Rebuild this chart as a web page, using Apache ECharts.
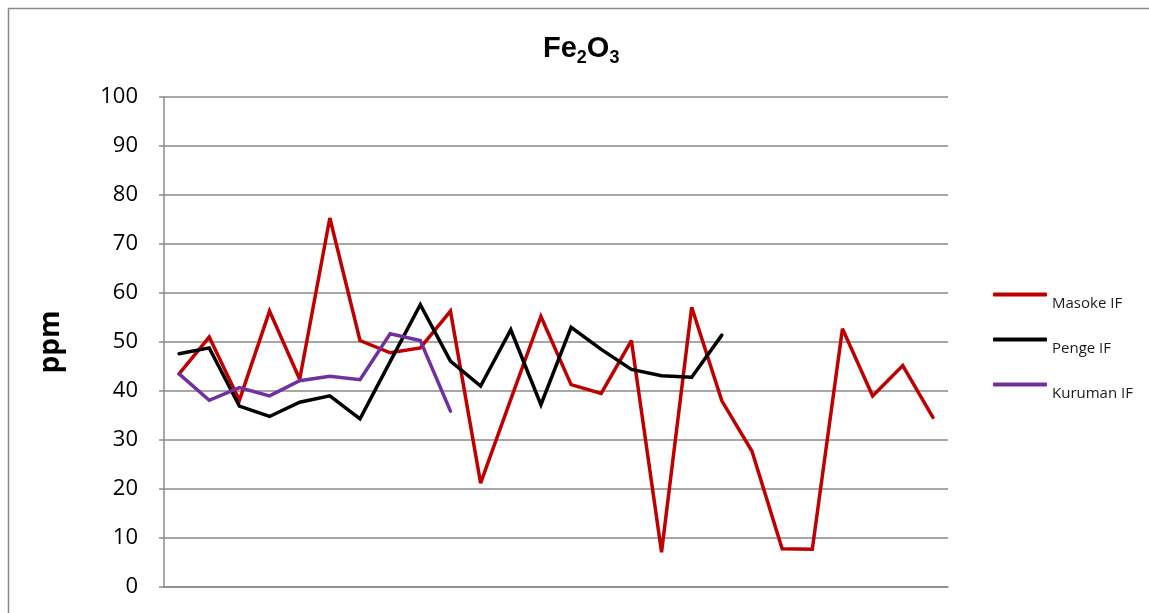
<!DOCTYPE html>
<html>
<head>
<meta charset="utf-8">
<title>Fe2O3</title>
<script src="https://cdn.jsdelivr.net/npm/echarts@6/dist/echarts.min.js"></script>
<style>
  html, body { margin: 0; padding: 0; background: #ffffff; }
  #chart { width: 1149px; height: 613px; }
</style>
</head>
<body>
<div id="chart"></div>
<script>
// Sample positions along the section (unlabelled on the chart)
const categories = ['1', '2', '3', '4', '5', '6', '7', '8', '9', '10', '11', '12', '13',
  '14', '15', '16', '17', '18', '19', '20', '21', '22', '23', '24', '25', '26'];

// Fe2O3 concentrations (ppm)
const masokeIF = [43.5, 51.0, 38.1, 56.3, 42.4, 75.3, 50.3, 47.8, 48.8, 56.3, 21.2, 38.3, 55.2,
  41.3, 39.5, 50.3, 7.1, 57.1, 38.0, 27.7, 7.8, 7.7, 52.7, 39.0, 45.2, 34.6];
const pengeIF = [47.6, 48.8, 36.9, 34.8, 37.7, 39.0, 34.3, 46.0, 57.6, 46.1, 41.0, 52.5, 37.2,
  53.0, 48.5, 44.4, 43.1, 42.8, 51.4];
const kurumanIF = [43.5, 38.1, 40.7, 39.0, 42.1, 43.0, 42.3, 51.7, 50.3, 35.9];

const seriesNames = ['Masoke IF', 'Penge IF', 'Kuruman IF'];
const seriesColors = ['#C00000', '#000000', '#7030A0'];
const seriesData = [masokeIF, pengeIF, kurumanIF];

const yTicks = { min: 0, max: 100, interval: 10 };

const gridGray = '#8a8a8a';
const bodyFont = '"Open Sans", "Noto Sans", sans-serif';

const chart = echarts.init(document.getElementById('chart'), null, { renderer: 'canvas' });

chart.setOption({
  backgroundColor: '#ffffff',
  animation: false,
  graphic: [{
    type: 'rect',
    shape: { x: 8.5, y: 8.5, width: 1200, height: 700 },
    style: { fill: 'none', stroke: gridGray, lineWidth: 1.5 },
    silent: true
  }],
  title: {
    text: '{a|Fe}{s|2}{a|O}{s|3}',
    left: 538,
    top: 30,
    textStyle: {
      rich: {
        a: {
          fontFamily: '"Liberation Sans", Arial, sans-serif',
          fontWeight: 'bold',
          fontSize: 29,
          lineHeight: 32,
          color: '#000',
          verticalAlign: 'bottom',
          padding: [0, 0, 4, 0]
        },
        s: {
          fontFamily: '"Liberation Sans", Arial, sans-serif',
          fontWeight: 'bold',
          fontSize: 18,
          lineHeight: 20,
          color: '#000',
          verticalAlign: 'bottom'
        }
      }
    }
  },
  legend: {
    orient: 'vertical',
    left: 988,
    top: 273,
    itemWidth: 54,
    itemHeight: 4,
    itemGap: 12,
    icon: 'roundRect',
    data: seriesNames,
    formatter: '{t|{name}}',
    textStyle: {
      rich: {
        t: {
          fontFamily: bodyFont,
          fontSize: 15,
          lineHeight: 18,
          color: '#1a1a1a',
          padding: [18, 0, 0, 0]
        }
      }
    }
  },
  grid: { left: 164, right: 201, top: 97, bottom: 26, containLabel: false },
  xAxis: {
    type: 'category',
    data: categories,
    boundaryGap: true,
    axisLine: { show: true, lineStyle: { color: gridGray, width: 1.5 } },
    axisTick: { show: false },
    axisLabel: { show: false },
    splitLine: { show: false }
  },
  yAxis: {
    type: 'value',
    min: yTicks.min,
    max: yTicks.max,
    interval: yTicks.interval,
    name: 'ppm',
    nameLocation: 'middle',
    nameRotate: 90,
    nameGap: 99,
    nameTextStyle: {
      fontFamily: bodyFont,
      fontWeight: 'bold',
      fontSize: 28,
      color: '#000'
    },
    axisLine: { show: true, lineStyle: { color: gridGray, width: 1.5 } },
    axisTick: { show: true, length: 5, lineStyle: { color: gridGray, width: 1.5 } },
    axisLabel: {
      fontFamily: bodyFont,
      fontSize: 22,
      color: '#000',
      margin: 26
    },
    splitLine: { show: true, lineStyle: { color: gridGray, width: 1.5 } }
  },
  series: seriesNames.map((name, i) => ({
    name: name,
    type: 'line',
    data: seriesData[i],
    symbol: 'none',
    smooth: false,
    color: seriesColors[i],
    lineStyle: { color: seriesColors[i], width: 3.5, cap: 'round', join: 'miter', miterLimit: 3 },
    z: 2 + i
  }))
});
</script>
</body>
</html>
